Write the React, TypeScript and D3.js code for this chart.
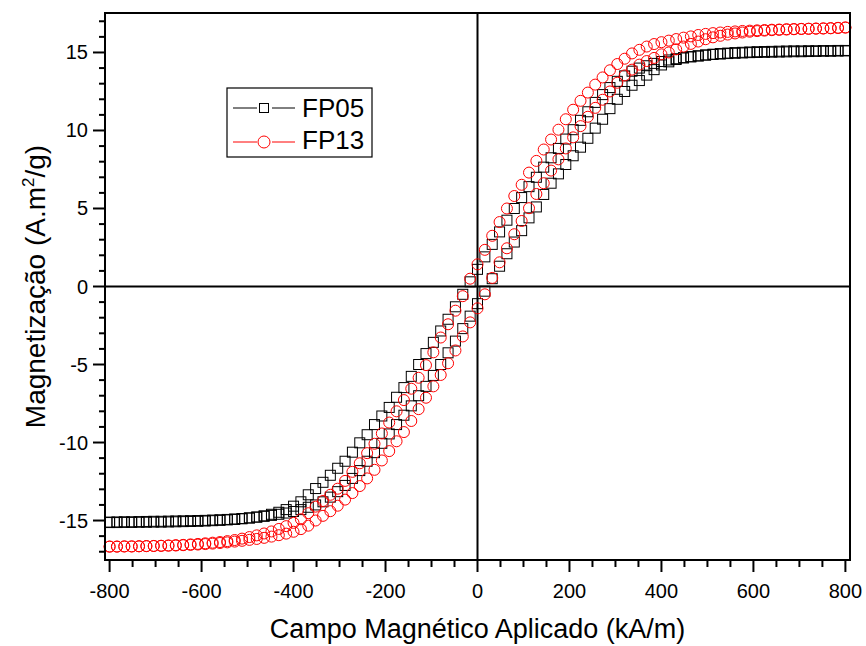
import React from "react";
import * as d3 from "d3";

// Applied field grid (kA/m)
const fieldH = [-800,-784,-768,-752,-736,-720,-704,-688,-672,-656,-640,-624,-608,-592,-576,-560,-544,-528,-512,-496,-480,-464,-448,-432,-416,-400,-384,-368,-352,-336,-320,-304,-288,-272,-256,-240,-224,-208,-192,-176,-160,-144,-128,-112,-96,-80,-64,-48,-32,-16,0,16,32,48,64,80,96,112,128,144,160,176,192,208,224,240,256,272,288,304,320,336,352,368,384,400,416,432,448,464,480,496,512,528,544,560,576,592,608,624,640,656,672,688,704,720,736,752,768,784,800];

// FP05 (squares) – descending branch and ascending branch, A.m²/g
const fp05Down = [-15.13,-15.13,-15.12,-15.12,-15.11,-15.11,-15.10,-15.10,-15.09,-15.08,-15.07,-15.06,-15.05,-15.03,-15.01,-14.99,-14.96,-14.93,-14.89,-14.84,-14.78,-14.70,-14.60,-14.47,-14.30,-14.08,-13.80,-13.35,-12.95,-12.55,-12.10,-11.65,-11.20,-10.62,-10.02,-9.50,-8.85,-8.30,-7.75,-7.10,-6.48,-5.76,-5.00,-4.30,-3.58,-2.85,-2.10,-1.30,-0.50,0.30,
1.10,1.90,2.70,3.50,4.25,5.00,5.70,6.40,7.00,7.65,8.25,8.85,9.45,10.05,10.65,11.20,11.80,12.30,12.75,13.15,13.50,13.80,14.00,14.15,14.30,14.42,14.52,14.60,14.67,14.73,14.78,14.83,14.87,14.90,14.93,14.95,14.97,14.99,15.00,15.01,15.02,15.03,15.04,15.05,15.05,15.06,15.07,15.08,15.08,15.09,15.10];
const fp05Up = [-15.10,-15.09,-15.08,-15.08,-15.07,-15.06,-15.05,-15.05,-15.04,-15.03,-15.02,-15.01,-15.00,-14.99,-14.97,-14.95,-14.93,-14.90,-14.87,-14.83,-14.78,-14.73,-14.67,-14.60,-14.52,-14.42,-14.30,-14.15,-14.00,-13.80,-13.50,-13.15,-12.75,-12.30,-11.80,-11.20,-10.65,-10.05,-9.45,-8.85,-8.25,-7.65,-7.00,-6.40,-5.70,-5.00,-4.25,-3.50,-2.70,-1.90,
-1.10,-0.30,0.50,1.30,2.10,2.85,3.58,4.40,5.10,5.90,6.62,7.22,7.82,8.38,8.93,9.50,10.15,10.72,11.40,12.00,12.50,12.90,13.20,13.55,13.90,14.20,14.40,14.55,14.65,14.72,14.78,14.84,14.89,14.93,14.96,14.99,15.01,15.03,15.05,15.06,15.07,15.08,15.09,15.10,15.10,15.11,15.11,15.12,15.12,15.13,15.13];

// FP13 (circles)
const fp13Down = [-16.67,-16.67,-16.66,-16.66,-16.65,-16.64,-16.63,-16.62,-16.60,-16.58,-16.56,-16.53,-16.50,-16.46,-16.42,-16.38,-16.32,-16.25,-16.16,-16.06,-15.95,-15.83,-15.70,-15.54,-15.36,-15.15,-14.92,-14.53,-14.11,-13.75,-13.35,-12.96,-12.46,-11.88,-11.33,-10.68,-10.08,-9.42,-8.72,-8.00,-7.28,-6.55,-5.85,-5.04,-4.22,-3.27,-2.42,-1.55,-0.62,0.50,
1.42,2.35,3.25,4.13,5.00,5.80,6.52,7.30,8.05,8.78,9.42,10.05,10.72,11.33,11.90,12.43,12.94,13.40,13.86,14.26,14.60,14.94,15.17,15.38,15.54,15.66,15.76,15.86,15.95,16.03,16.12,16.19,16.24,16.28,16.32,16.35,16.38,16.40,16.42,16.44,16.46,16.47,16.49,16.50,16.51,16.52,16.53,16.54,16.55,16.57,16.60];
const fp13Up = [-16.67,-16.67,-16.66,-16.66,-16.65,-16.64,-16.63,-16.62,-16.61,-16.60,-16.58,-16.56,-16.54,-16.51,-16.48,-16.44,-16.40,-16.35,-16.30,-16.24,-16.18,-16.11,-16.03,-15.94,-15.84,-15.72,
-15.55,-15.33,-15.00,-14.70,-14.40,-14.05,-13.66,-13.24,-12.79,-12.30,-11.75,-11.15,-10.55,-9.92,-9.33,-8.62,-7.86,-7.13,-6.40,-5.67,-4.92,-4.10,-3.20,-2.30,
-1.40,-0.50,0.55,1.55,2.45,3.35,4.20,5.02,5.93,6.62,7.43,8.15,8.85,9.56,10.28,10.88,11.45,11.97,12.50,13.06,13.53,13.90,14.22,14.45,14.65,14.88,15.00,15.20,15.38,15.55,15.70,15.85,15.97,16.07,16.15,16.22,16.28,16.33,16.37,16.40,16.43,16.45,16.47,16.49,16.51,16.52,16.53,16.54,16.56,16.58,16.60];

const seriesNames = ["FP05", "FP13"];
const xTickValues = [-800, -600, -400, -200, 0, 200, 400, 600, 800];
const yTickValues = [-15, -10, -5, 0, 5, 10, 15];
const xLabel = "Campo Magnético Aplicado (kA/m)";

const FONT = "'Liberation Sans', Arial, sans-serif";

export default function App() {
  const x = d3.scaleLinear().domain([-810, 810]).range([105, 850]);
  const y = d3.scaleLinear().domain([-17.53, 17.53]).range([560, 13]);
  const xMinor = d3.range(-800, 801, 50);
  const yMinor = d3.range(-17, 18, 1);

  const pts = (hs: number[], ms: number[]) => hs.map((h, i) => [x(h), y(ms[i])] as [number, number]);
  const sq = [...pts(fieldH, fp05Down), ...pts(fieldH, fp05Up)];
  const ci = [...pts(fieldH, fp13Down), ...pts(fieldH, fp13Up)];
  const s = 5;
  const r = 5.5;

  return (
    <svg width={866} height={646} style={{ position: "absolute", left: 0, top: 0, background: "#fff" }} fontFamily={FONT}>
      <rect x={0} y={0} width={866} height={646} fill="#fff" />
      {/* zero lines */}
      <line x1={x(0)} x2={x(0)} y1={13} y2={560} stroke="#000" strokeWidth={2} />
      <line x1={105} x2={850} y1={y(0)} y2={y(0)} stroke="#000" strokeWidth={2} />
      {/* data */}
      <g fill="none" stroke="#000" strokeWidth={1}>
        {sq.map(([px, py], i) => (
          <rect key={i} x={px - s} y={py - s} width={2 * s} height={2 * s} />
        ))}
      </g>
      <g fill="none" stroke="#ff0000" strokeWidth={1}>
        {ci.map(([px, py], i) => (
          <circle key={i} cx={px} cy={py} r={r} />
        ))}
      </g>
      {/* frame */}
      <rect x={105} y={13} width={745} height={547} fill="none" stroke="#000" strokeWidth={2} />
      {/* ticks */}
      <g stroke="#000" strokeWidth={2}>
        {xMinor.map((v) => (
          <line key={"xm" + v} x1={x(v)} x2={x(v)} y1={560} y2={xTickValues.includes(v) ? 572 : 567} />
        ))}
        {yMinor.map((v) => (
          <line key={"ym" + v} x1={105} x2={yTickValues.includes(v) ? 93 : 99} y1={y(v)} y2={y(v)} />
        ))}
      </g>
      <g fontSize={20} fill="#000">
        {xTickValues.map((v) => (
          <text key={"xl" + v} x={x(v)} y={598} textAnchor="middle">{v}</text>
        ))}
        {yTickValues.map((v) => (
          <text key={"yl" + v} x={88} y={y(v) + 7} textAnchor="end">{v}</text>
        ))}
      </g>
      <text x={x(0)} y={638} fontSize={27} textAnchor="middle">{xLabel}</text>
      <text transform={`translate(45,${y(0)}) rotate(-90)`} fontSize={28} textAnchor="middle">
        Magnetização (A.m<tspan dy={-11} fontSize={17}>2</tspan><tspan dy={11}>/g)</tspan>
      </text>
      {/* legend */}
      <rect x={227} y={88} width={145} height={69} fill="#fff" stroke="#000" strokeWidth={1.2} />
      <g stroke="#000" strokeWidth={1}>
        <line x1={233} x2={257} y1={108} y2={108} />
        <line x1={272} x2={295} y1={108} y2={108} />
        <rect x={259.5} y={103.5} width={9} height={9} fill="none" />
      </g>
      <g stroke="#ff0000" strokeWidth={1}>
        <line x1={233} x2={257} y1={142} y2={142} />
        <line x1={272} x2={295} y1={142} y2={142} />
        <circle cx={264} cy={142} r={6} fill="none" />
      </g>
      <text x={302} y={117} fontSize={26}>{seriesNames[0]}</text>
      <text x={302} y={149} fontSize={26}>{seriesNames[1]}</text>
    </svg>
  );
}
